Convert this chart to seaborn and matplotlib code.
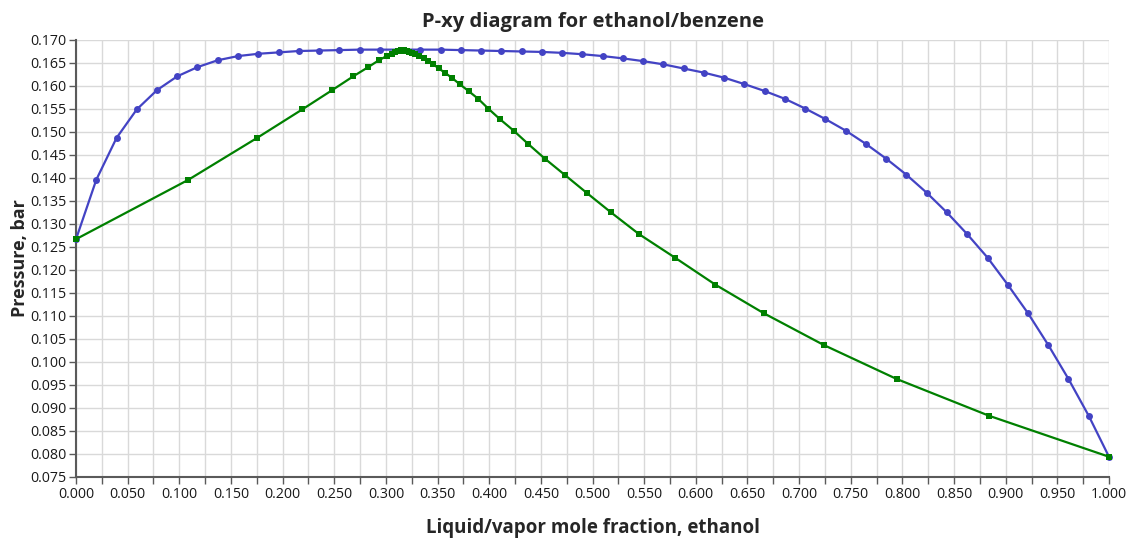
import numpy as np
import pandas as pd
import matplotlib
matplotlib.use("Agg")
import matplotlib.pyplot as plt
import seaborn as sns
from matplotlib.ticker import MultipleLocator, FormatStrFormatter

# liquid mole fraction of ethanol (bubble curve points)
x_liquid = [0.0000, 0.0196, 0.0392, 0.0588, 0.0784, 0.0980, 0.1176, 0.1373, 0.1569, 0.1765,
            0.1961, 0.2157, 0.2353, 0.2549, 0.2745, 0.2941, 0.3137, 0.3333, 0.3529, 0.3725,
            0.3922, 0.4118, 0.4314, 0.4510, 0.4706, 0.4902, 0.5098, 0.5294, 0.5490, 0.5686,
            0.5882, 0.6078, 0.6275, 0.6471, 0.6667, 0.6863, 0.7059, 0.7255, 0.7451, 0.7647,
            0.7843, 0.8039, 0.8235, 0.8431, 0.8627, 0.8824, 0.9020, 0.9216, 0.9412, 0.9608,
            0.9804, 1.0000]

# vapor mole fraction of ethanol (dew curve points, same pressures)
y_vapor = [0.0000, 0.1087, 0.1752, 0.2190, 0.2480, 0.2684, 0.2829, 0.2932, 0.3007, 0.3055,
           0.3092, 0.3118, 0.3136, 0.3149, 0.3158, 0.3164, 0.3169, 0.3173, 0.3176, 0.3179,
           0.3184, 0.3192, 0.3204, 0.3222, 0.3250, 0.3285, 0.3325, 0.3367, 0.3412, 0.3460,
           0.3512, 0.3570, 0.3637, 0.3714, 0.3800, 0.3894, 0.3990, 0.4103, 0.4236, 0.4377,
           0.4539, 0.4730, 0.4942, 0.5180, 0.5450, 0.5797, 0.6190, 0.6658, 0.7238, 0.7945,
           0.8840, 1.0000]

# pressure, bar
pressure = [0.1267, 0.1396, 0.1487, 0.1549, 0.1591, 0.1621, 0.1641, 0.1656, 0.1665, 0.1670,
            0.1673, 0.1676, 0.1677, 0.1678, 0.1679, 0.1679, 0.1679, 0.1679, 0.1679, 0.1678,
            0.1677, 0.1676, 0.1675, 0.1674, 0.1672, 0.1669, 0.1665, 0.1660, 0.1654, 0.1647,
            0.1638, 0.1629, 0.1618, 0.1604, 0.1589, 0.1572, 0.1551, 0.1528, 0.1503, 0.1474,
            0.1442, 0.1407, 0.1368, 0.1325, 0.1278, 0.1227, 0.1168, 0.1106, 0.1037, 0.0963,
            0.0883, 0.0794]

df = pd.DataFrame({"x": x_liquid, "y": y_vapor, "P": pressure})

sns.set_theme(style="white")
plt.rcParams["font.family"] = ["Open Sans", "DejaVu Sans"]

fig = plt.figure(figsize=(11.33, 5.38), dpi=100)
ax = fig.add_axes([0.0671, 0.1134, 0.9117, 0.8123])

# grid first
ax.xaxis.set_major_locator(MultipleLocator(0.05))
ax.xaxis.set_minor_locator(MultipleLocator(0.025))
ax.yaxis.set_major_locator(MultipleLocator(0.005))
ax.xaxis.set_major_formatter(FormatStrFormatter("%.3f"))
ax.yaxis.set_major_formatter(FormatStrFormatter("%.3f"))
ax.grid(which="both", color="#d9d9d9", linewidth=1.0)
ax.set_axisbelow(True)

sns.lineplot(data=df, x="x", y="P", sort=False, estimator=None, ax=ax,
             color="#4343c4", linewidth=1.6, marker="o", markersize=5,
             markeredgewidth=0, clip_on=False, zorder=3)
sns.lineplot(data=df, x="y", y="P", sort=False, estimator=None, ax=ax,
             color="#008000", linewidth=1.6, marker="s", markersize=5,
             markeredgewidth=0, clip_on=False, zorder=4)

ax.set_xlim(0, 1)
ax.set_ylim(0.075, 0.170)

for side in ["top", "right"]:
    ax.spines[side].set_visible(False)
for side in ["left", "bottom"]:
    ax.spines[side].set_color("#5a5a5a")
    ax.spines[side].set_linewidth(1.5)

ax.tick_params(axis="both", which="both", direction="out", length=5, width=1,
               color="#5a5a5a", labelsize=10.3, labelcolor="#1a1a1a", pad=2)
ax.tick_params(axis="x", which="both", bottom=True)
ax.tick_params(axis="y", which="both", left=True)

ax.set_title("P-xy diagram for ethanol/benzene", fontsize=14.5, fontweight="bold", pad=9)
ax.set_xlabel("Liquid/vapor mole fraction, ethanol", fontsize=13.5, fontweight="bold", labelpad=12)
ax.set_ylabel("Pressure, bar", fontsize=13, fontweight="bold", labelpad=1)

fig.savefig("out.png", dpi=100)
